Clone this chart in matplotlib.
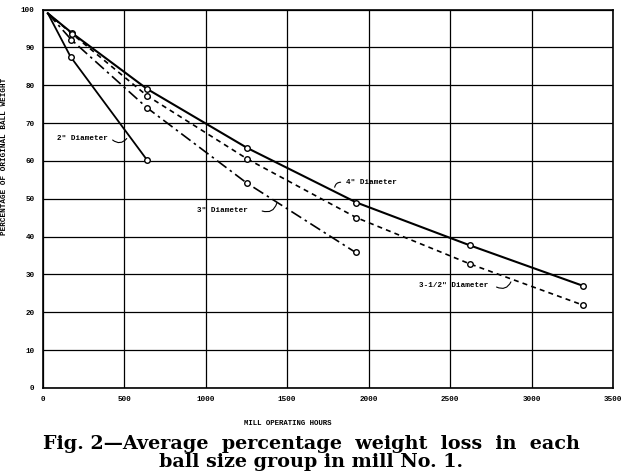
import matplotlib
matplotlib.use('Agg')
import matplotlib.pyplot as plt

# Data (mill hours, % of original ball weight)
hours_2in = [30, 170, 640]
pct_2in = [99, 87.5, 60.2]

hours_3in = [30, 175, 640, 1250, 1920]
pct_3in = [99, 92, 74, 54.2, 35.8]

hours_35in = [30, 178, 640, 1255, 1925, 2620, 3315]
pct_35in = [99, 93.6, 77.2, 60.5, 45, 32.8, 21.9]

hours_4in = [30, 178, 640, 1255, 1925, 2620, 3315]
pct_4in = [99, 93.8, 79, 63.4, 49, 37.7, 27]

x_ticks = [0, 500, 1000, 1500, 2000, 2500, 3000, 3500]
y_ticks = [0, 10, 20, 30, 40, 50, 60, 70, 80, 90, 100]

mono = 'Liberation Mono'

fig = plt.figure(figsize=(6.22, 4.76), dpi=100)
ax = fig.add_axes([0.069, 0.185, 0.9165, 0.795])

style = dict(color='black', marker='o', ms=4, mfc='white', mec='black', mew=1,
             markevery=slice(1, None))
ax.plot(hours_4in, pct_4in, lw=1.5, ls='-', **style)
ax.plot(hours_35in, pct_35in, lw=1.2, ls=(0, (3, 2.5)), **style)
ax.plot(hours_3in, pct_3in, lw=1.2, ls=(0, (7, 2.5, 1.5, 2.5)), **style)
ax.plot(hours_2in, pct_2in, lw=1.3, ls='-', **style)

ax.set_xlim(0, 3500)
ax.set_ylim(0, 100)
ax.set_xticks(x_ticks)
ax.set_yticks(y_ticks)
ax.set_xticklabels([str(v) for v in x_ticks], fontsize=5.5, family=mono, fontweight='bold')
ax.set_yticklabels([str(v) for v in y_ticks], fontsize=5.5, family=mono, fontweight='bold')
ax.tick_params(length=0, pad=6)
ax.grid(True, color='black', lw=0.9)
for s in ax.spines.values():
    s.set_linewidth(1.2)

ax.set_xlabel('MILL OPERATING HOURS', fontsize=5.3, family=mono, fontweight='bold', labelpad=12)
ax.xaxis.set_label_coords(0.43, -0.085)
ax.set_ylabel('PERCENTAGE OF ORIGINAL BALL WEIGHT', fontsize=5.5, family=mono,
              fontweight='bold', labelpad=12)
ax.yaxis.set_label_coords(-0.062, 0.613)

# curve labels with squiggly leaders
labels = [
    ('2" Diameter', (85, 66), (525, 66.5)),
    ('3" Diameter', (945, 47), (1440, 49.5)),
    ('4" Diameter', (1860, 54.3), (1790, 52.3)),
    ('3-1/2" Diameter', (2310, 27), (2880, 28.7)),
]
for txt, pos, tip in labels:
    ax.text(pos[0], pos[1], txt, fontsize=5.5, family=mono, fontweight='bold',
            va='center', ha='left')
    if tip[0] > pos[0]:
        start = (tip[0] - 110, pos[1])
    else:
        start = (pos[0] - 15, pos[1])
    ax.annotate('', xy=tip, xytext=start,
                arrowprops=dict(arrowstyle='-', color='black', lw=0.8,
                                connectionstyle='arc3,rad=0.6'))

fig.text(0.5, 0.048, 'Fig. 2\u2014Average  percentage  weight  loss  in  each\nball size group in mill No. 1.',
         ha='center', va='center', fontsize=13.8, fontweight='bold',
         family='DejaVu Serif', linespacing=1.0)

fig.savefig('out.png', dpi=100)
